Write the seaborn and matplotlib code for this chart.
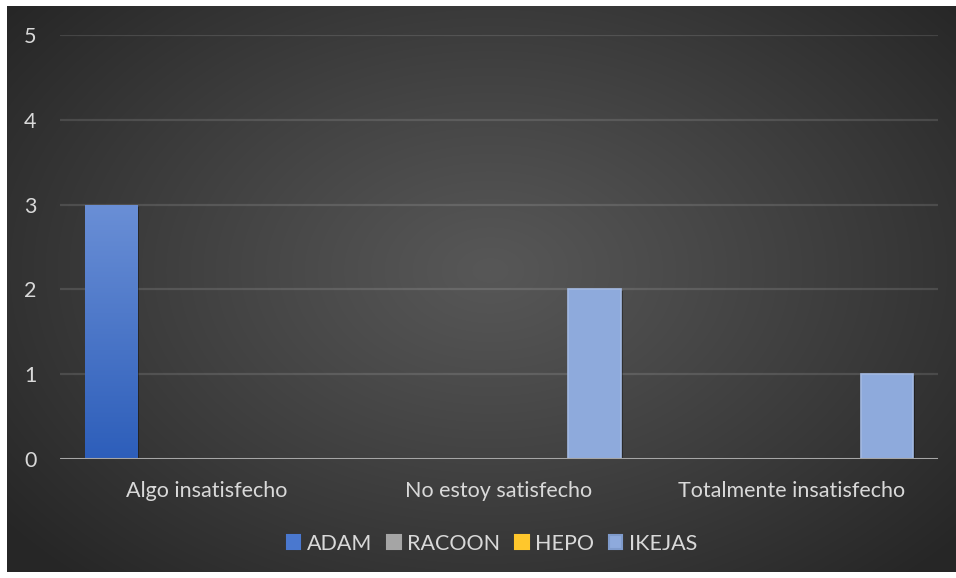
import numpy as np
import pandas as pd
import seaborn as sns
import matplotlib.pyplot as plt
from matplotlib.patches import Rectangle
import matplotlib.patheffects as pe

# Survey answers per product
categories = ["Algo insatisfecho", "No estoy satisfecho", "Totalmente insatisfecho"]
series = ["ADAM", "RACOON", "HEPO", "IKEJAS"]
adam = [3, 0, 0]
racoon = [0, 0, 0]
hepo = [0, 0, 0]
ikejas = [0, 2, 1]
y_ticks = [0, 1, 2, 3, 4, 5]

colors = {"ADAM": "#4a78cf", "RACOON": "#a5a5a5", "HEPO": "#ffc72c", "IKEJAS": "#8eaadc"}
text_color = "#d9d9d9"
fs = 15.5

rows = []
for name, vals in zip(series, [adam, racoon, hepo, ikejas]):
    for cat, v in zip(categories, vals):
        rows.append({"category": cat, "series": name, "value": v})
df = pd.DataFrame(rows)

sns.set_theme(style="white")
plt.rcParams["font.family"] = ["Lato", "DejaVu Sans"]

W, H = 956, 578
fig = plt.figure(figsize=(W / 100, H / 100), dpi=100)

# dark radial background with a white margin
bg = fig.add_axes([0, 0, 1, 1])
bg.set_axis_off()
yy, xx = np.mgrid[0:H, 0:W]
d = np.sqrt(((xx - 490) / 620) ** 2 + ((yy - 270) / 420) ** 2)
d = np.clip(d, 0, 1) ** 1.1
inner = np.array([0x57, 0x57, 0x57]) / 255
outer = np.array([0x26, 0x26, 0x26]) / 255
img = inner + (outer - inner) * d[..., None]
img[:6, :] = 1
img[:, :7] = 1
img[572:, :] = 1
bg.imshow(img, extent=[0, W, H, 0], aspect="auto", zorder=0)
bg.set_xlim(0, W)
bg.set_ylim(H, 0)

ax = fig.add_axes([60 / W, 1 - 459 / H, (938 - 60) / W, (459 - 35) / H])
ax.patch.set_alpha(0)

sns.barplot(data=df, x="category", y="value", hue="series", hue_order=series,
            palette=colors, width=0.87, saturation=1, legend=False, ax=ax, zorder=3)

bar_w = 0.178
shadow = [pe.SimplePatchShadow(offset=(1.5, -1.5), shadow_rgbFace="black", alpha=0.35), pe.Normal()]
for name, cont in zip(series, ax.containers):
    for p in cont.patches:
        cx = p.get_x() + p.get_width() / 2
        p.set_x(cx - bar_w / 2)
        p.set_width(bar_w)
        p.set_linewidth(0)
        if p.get_height() > 0:
            p.set_path_effects(shadow)
        if name == "IKEJAS":
            p.set_edgecolor("#a3b9e2")
            p.set_linewidth(1.2)
        if name == "ADAM" and p.get_height() > 0:
            grad = np.linspace(0, 1, 256)[:, None]
            top = np.array([0x6a, 0x8f, 0xd6]) / 255
            bot = np.array([0x2d, 0x5e, 0xba]) / 255
            gimg = top + (bot - top) * grad[..., None]
            gimg = np.repeat(gimg, 2, axis=1)
            im = ax.imshow(gimg, extent=[p.get_x(), p.get_x() + p.get_width(), 0, p.get_height()],
                           aspect="auto", zorder=3.5, origin="upper")
            im.set_clip_path(p)

ax.set_xlim(-0.5, 2.5)
ax.set_ylim(0, 5)
ax.set_yticks(y_ticks)
ax.set_yticklabels([str(t) for t in y_ticks])
for t in y_ticks[1:]:
    ax.axhline(t, color="white", alpha=0.12, lw=1.6, zorder=1)
ax.axhline(0, color="#a6a6a6", lw=2.2, zorder=4)
for s in ax.spines.values():
    s.set_visible(False)
ax.set_xlabel("")
ax.set_ylabel("")
ax.tick_params(axis="y", length=0, pad=17, labelsize=fs, labelcolor=text_color)
ax.tick_params(axis="x", length=0, pad=16, labelsize=fs, labelcolor=text_color)
ax.grid(False)

handles = []
for name in series:
    ec = "#7f9bcc" if name == "IKEJAS" else colors[name]
    handles.append(Rectangle((0, 0), 1, 1, facecolor=colors[name], edgecolor=ec, lw=1.5))
fig.legend(handles, series, loc="center", bbox_to_anchor=(492 / W, 1 - 544 / H), ncol=4,
           frameon=False, fontsize=fs, labelcolor=text_color, handlelength=0.62,
           handleheight=0.62, handletextpad=0.3, columnspacing=0.7)

fig.savefig("out.png", dpi=100)
